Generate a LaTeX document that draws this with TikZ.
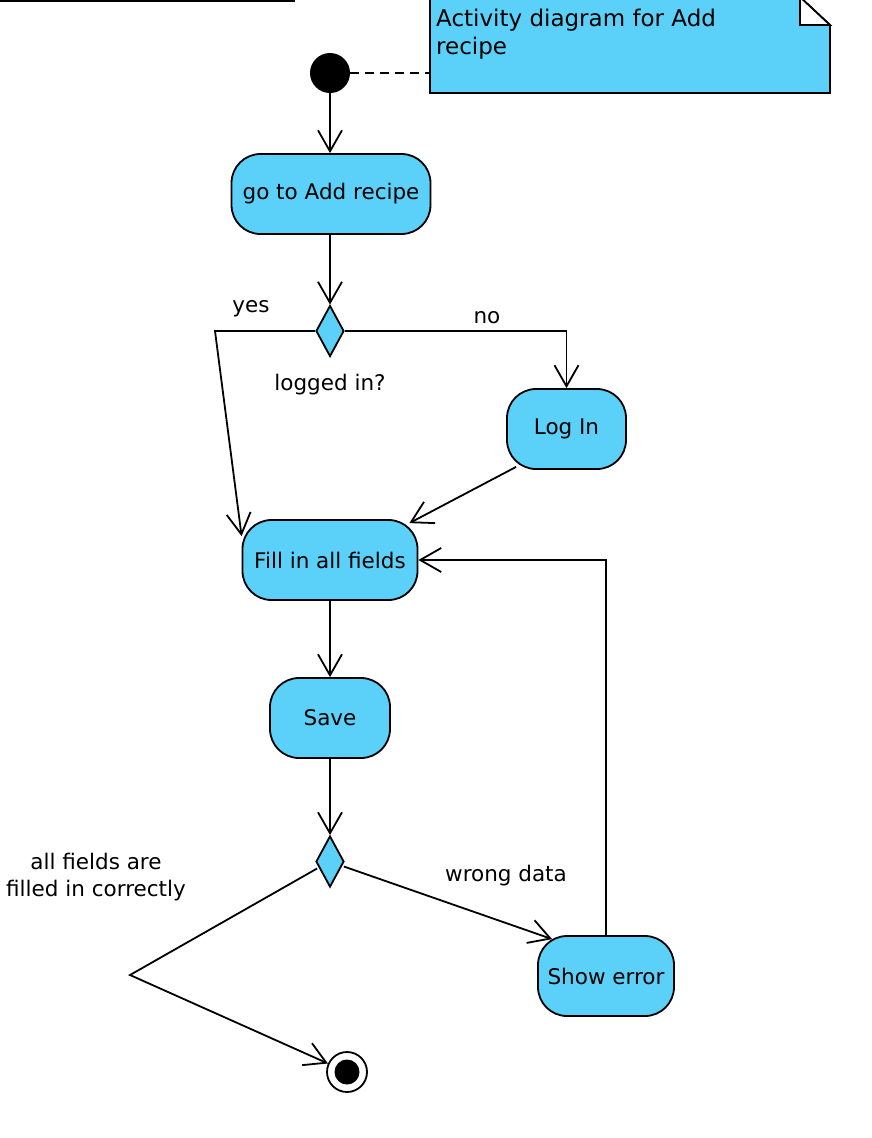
\documentclass[tikz,border=0pt]{standalone}
\usepackage{fontspec}
\setmainfont{DejaVu Sans}
\usetikzlibrary{arrows.meta,shapes.geometric}
\definecolor{ublue}{RGB}{91,209,249}
\tikzset{
  every node/.style={font=\fontsize{21.5}{27}\selectfont},
  act/.style={draw, fill=ublue, rounded corners=29pt, line width=1.8pt, minimum height=80pt, inner sep=0pt},
  dec/.style={draw, fill=ublue, diamond, line width=1.8pt, minimum width=28pt, minimum height=51pt, inner sep=0pt},
  flow/.style={line width=1.8pt, -{Straight Barb[length=21pt,width=24pt,line width=1.8pt]}},
  lbl/.style={inner sep=0pt}
}
\begin{document}
\begin{tikzpicture}[x=1pt,y=-1pt]
\useasboundingbox (0,0) rectangle (872,1138);
% top-left line
\draw[line width=2.2pt] (0,1) -- (295,1);
% note
\draw[line width=1.8pt, fill=ublue] (430,-3) -- (430,93) -- (830,93) -- (830,25) -- (800,-3) -- cycle;
\draw[line width=1.8pt, fill=white] (800,-3) -- (800,25) -- (830,25) -- cycle;
\node[lbl, anchor=north west, align=left, font=\fontsize{23}{27.5}\selectfont] (note) at (436,9) {Activity diagram for Add\\recipe};
\coordinate (notew) at (430,73);
% nodes
\node[circle, fill=black, minimum size=40pt, inner sep=0pt] (init) at (330,73) {};
\node[act, minimum width=199pt] (goto) at (331,194) {go to Add recipe};
\node[dec] (d1) at (330,331) {};
\node[act, minimum width=119pt] (login) at (566.5,429) {Log In};
\node[act, minimum width=175pt] (fill) at (330,560) {Fill in all fields};
\node[act, minimum width=120pt] (save) at (330,718) {Save};
\node[dec] (d2) at (330,861.5) {};
\node[act, minimum width=136pt] (err) at (606,976) {Show error};
\node[circle, draw, fill=white, line width=1.8pt, minimum size=40pt, inner sep=0pt] (fin) at (347,1072) {};
\node[circle, fill=black, minimum size=25pt, inner sep=0pt] (fininner) at (fin) {};
% labels
\node[lbl] (yes) at (251,309) {yes};
\node[lbl] (no) at (487,318) {no};
\node[lbl] (logged) at (330,385) {logged in?};
\node[lbl] (wrong) at (506,876) {wrong data};
\node[lbl, align=center] (allf) at (96,877) {all fields are\\filled in correctly};
% bend coordinates
\coordinate (yb) at (215,331);
\coordinate (nb) at (566.5,331);
\coordinate (lb) at (130,975);
\coordinate (eb) at (606,560);
% connectors
\draw[line width=1.8pt, dash pattern=on 9pt off 6pt] (init.east) -- (notew);
\draw[flow] (init) -- (init |- goto.north);
\draw[flow] (init |- goto.south) -- (d1.north);
\draw[flow] (d1.west) -- (yb) -- ([yshift=-17pt]fill.north west);
\draw[flow] (d1.east) -- (nb) -- (login.north);
\draw[flow] ([shift={(10pt,3pt)}]login.south west) -- ([shift={(-9pt,-4pt)}]fill.north east);
\draw[flow] (fill) -- (save);
\draw[flow] (save) -- (d2.north);
\draw[flow] ([shift={(-1pt,-5pt)}]d2.east) -- ([shift={(15pt,-4pt)}]err.north west);
\draw[flow] (err.north) -- (eb) -- (fill.east);
\draw[flow] ([shift={(2pt,-7pt)}]d2.west) -- (lb) -- (fin);
\end{tikzpicture}
\end{document}
